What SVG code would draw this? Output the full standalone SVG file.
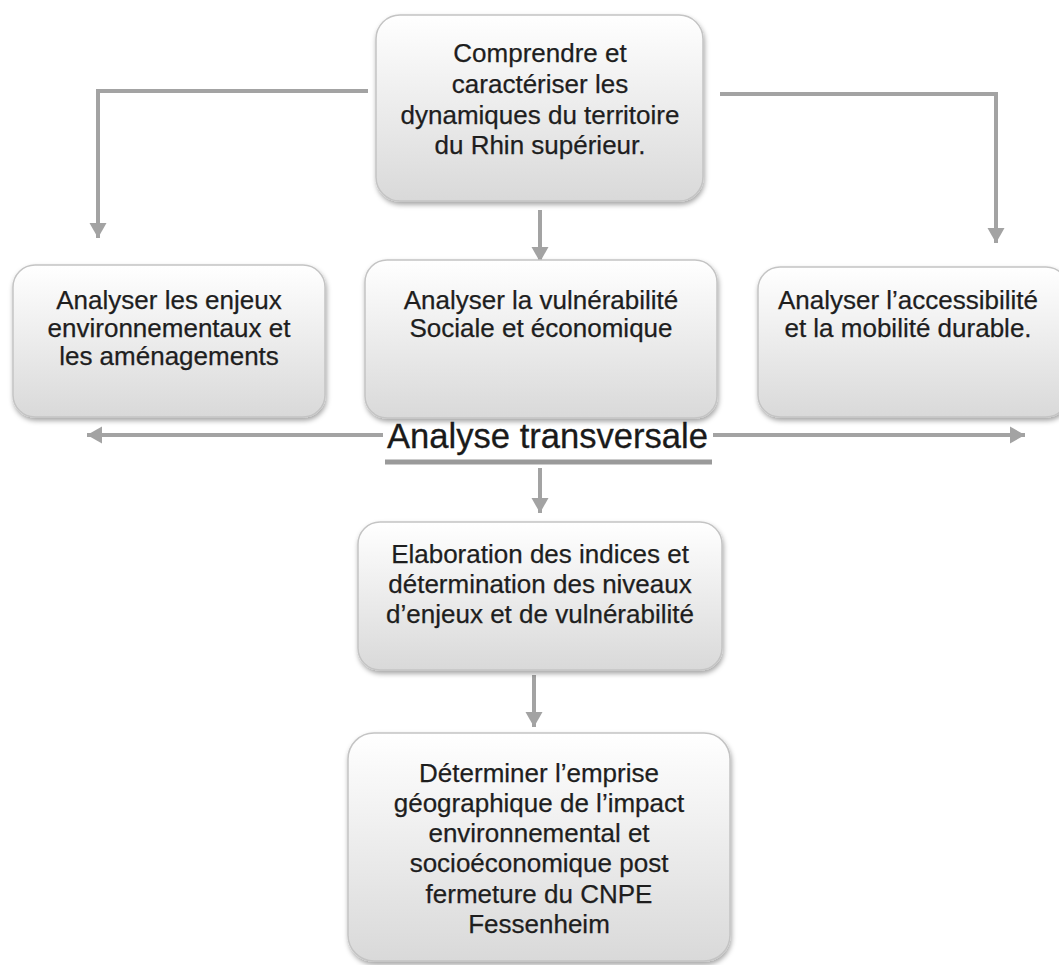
<svg xmlns="http://www.w3.org/2000/svg" width="1059" height="965" viewBox="0 0 1059 965">
<style>
.box{fill:url(#g);stroke:#c4c4c4;stroke-width:1.5;filter:url(#sh)}
.t{font-family:"Liberation Sans",Arial,sans-serif;font-size:26px;fill:#1e1e1e;text-anchor:middle;stroke:#1e1e1e;stroke-width:0.25}
.c{fill:none;stroke:#a3a3a3;stroke-width:4}
</style>
<defs>
<linearGradient id="g" x1="0" y1="0" x2="0" y2="1">
<stop offset="0" stop-color="#ffffff"/>
<stop offset="1" stop-color="#d9d9d9"/>
</linearGradient>
<filter id="sh" x="-10%" y="-10%" width="120%" height="130%">
<feDropShadow dx="1" dy="3" stdDeviation="2.5" flood-color="#000" flood-opacity="0.35"/>
</filter>
<marker id="ah" markerUnits="userSpaceOnUse" markerWidth="20" markerHeight="20" viewBox="0 0 20 20" refX="15" refY="10" orient="auto">
<path d="M0,1.5 L15,10 L0,18.5 Z" fill="#a3a3a3"/>
</marker>
</defs>

<g id="connectors">
<path class="c" d="M368,91 H98 V238" marker-end="url(#ah)"/>
<path class="c" d="M720,94 H996 V243" marker-end="url(#ah)"/>
<path class="c" d="M540,210 V262" stroke-width="5" marker-end="url(#ah)"/>
<path class="c" d="M383,435 H87" marker-end="url(#ah)"/>
<path class="c" d="M713,435 H1025" marker-end="url(#ah)"/>
<path class="c" d="M540,468 V513" stroke-width="5" marker-end="url(#ah)"/>
<path class="c" d="M534,675 V727" stroke-width="5" marker-end="url(#ah)"/>
</g>

<g id="n-top">
<rect class="box" x="376" y="15" width="327" height="186" rx="24"/>
<text class="t" x="540" y="62">Comprendre et</text>
<text class="t" x="540" y="93">caractériser les</text>
<text class="t" x="540" y="124">dynamiques du territoire</text>
<text class="t" x="540" y="154">du Rhin supérieur.</text>
</g>

<g id="n-env">
<rect class="box" x="13" y="265" width="312" height="152" rx="22"/>
<text class="t" x="169" y="309">Analyser les enjeux</text>
<text class="t" x="169" y="337">environnementaux et</text>
<text class="t" x="169" y="365">les aménagements</text>
</g>

<g id="n-vul">
<rect class="box" x="365" y="260" width="352" height="158" rx="22"/>
<text class="t" x="541" y="309">Analyser la vulnérabilité</text>
<text class="t" x="541" y="337">Sociale et économique</text>
</g>

<g id="n-acc">
<rect class="box" x="758" y="267" width="310" height="150" rx="22"/>
<text class="t" x="908" y="309">Analyser l’accessibilité</text>
<text class="t" x="908" y="337">et la mobilité durable.</text>
</g>

<g id="n-trans">
<text x="547.5" y="448" font-family="Liberation Sans,Arial,sans-serif" font-size="35" fill="#1a1a1a" stroke="#1a1a1a" stroke-width="0.3" text-anchor="middle" textLength="321" lengthAdjust="spacingAndGlyphs">Analyse transversale</text>
<rect x="385" y="459.5" width="327" height="5" fill="#9a9a9a"/>
</g>

<g id="n-ind">
<rect class="box" x="358" y="522" width="364" height="148" rx="22"/>
<text class="t" x="540" y="563">Elaboration des indices et</text>
<text class="t" x="540" y="593">détermination des niveaux</text>
<text class="t" x="540" y="623">d’enjeux et de vulnérabilité</text>
</g>

<g id="n-emp">
<rect class="box" x="348" y="733" width="382" height="228" rx="26"/>
<text class="t" x="539" y="782">Déterminer l’emprise</text>
<text class="t" x="539" y="812">géographique de l’impact</text>
<text class="t" x="539" y="842">environnemental et</text>
<text class="t" x="539" y="872">socioéconomique post</text>
<text class="t" x="539" y="903">fermeture du CNPE</text>
<text class="t" x="539" y="933">Fessenheim</text>
</g>
</svg>
